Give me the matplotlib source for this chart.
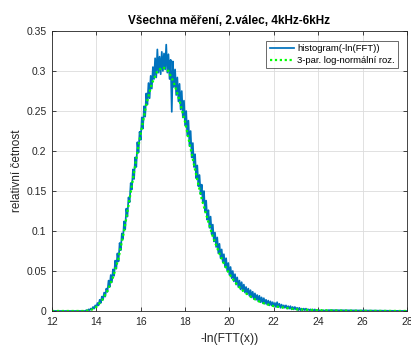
import numpy as np
import matplotlib
matplotlib.use("Agg")
import matplotlib.pyplot as plt

plt.rcParams["font.family"] = ["Liberation Sans", "DejaVu Sans"]

# fit curve (3-par. log-normal)
fit_x = [12.0, 13.0, 13.5, 13.75, 14.0, 14.25, 14.5, 14.75, 15.0, 15.25, 15.5,
         15.75, 16.0, 16.25, 16.5, 16.75, 17.0, 17.25, 17.5, 17.75, 18.0,
         18.25, 18.5, 18.75, 19.0, 19.25, 19.5, 19.75, 20.0, 20.25, 20.5,
         20.75, 21.0, 21.25, 21.5, 21.75, 22.0, 22.5, 23.0, 23.5, 24.0,
         25.0, 26.0, 27.0, 28.0]
fit_y = [0.0, 0.0, 0.0, 0.001, 0.005, 0.013, 0.025, 0.042, 0.066, 0.100, 0.140,
         0.182, 0.222, 0.258, 0.284, 0.300, 0.305, 0.300, 0.285, 0.263, 0.236,
         0.203, 0.170, 0.140, 0.116, 0.093, 0.075, 0.059, 0.046, 0.036, 0.028,
         0.022, 0.017, 0.013, 0.010, 0.008, 0.006, 0.004, 0.002, 0.0015, 0.001,
         0.0005, 0.0002, 0.0001, 0.0]

# histogram, bins of 0.05 starting at 13.5
hist_start = 13.5
hist_step = 0.05
hist_y = [
    0.000, 0.001, 0.000, 0.002, 0.001, 0.003, 0.002, 0.005, 0.003, 0.007,
    0.005, 0.010, 0.007, 0.014, 0.010, 0.018, 0.014, 0.023, 0.018, 0.028,
    0.024, 0.038, 0.030, 0.045, 0.036, 0.052, 0.044, 0.063, 0.053, 0.072,
    0.062, 0.085, 0.076, 0.097, 0.090, 0.112, 0.102, 0.128, 0.118, 0.142,
    0.136, 0.160, 0.152, 0.177, 0.165, 0.192, 0.180, 0.211, 0.198, 0.224,
    0.214, 0.242, 0.228, 0.256, 0.243, 0.272, 0.258, 0.285, 0.266, 0.294,
    0.278, 0.305, 0.290, 0.316, 0.292, 0.327, 0.298, 0.318, 0.296, 0.324,
    0.300, 0.322, 0.302, 0.333, 0.298, 0.321, 0.290, 0.314, 0.249, 0.312,
    0.280, 0.302, 0.270, 0.292, 0.262, 0.284, 0.252, 0.275, 0.242, 0.263,
    0.232, 0.250, 0.219, 0.238, 0.206, 0.225, 0.192, 0.210, 0.180, 0.196,
    0.166, 0.182, 0.156, 0.170, 0.146, 0.158, 0.136, 0.150, 0.124, 0.138,
    0.114, 0.126, 0.104, 0.118, 0.096, 0.108, 0.087, 0.098, 0.080, 0.092,
    0.072, 0.084, 0.066, 0.077, 0.061, 0.071, 0.055, 0.066, 0.050, 0.060,
    0.045, 0.055, 0.041, 0.050, 0.037, 0.046, 0.033, 0.042, 0.030, 0.038,
    0.027, 0.036, 0.025, 0.033, 0.023, 0.030, 0.021, 0.028, 0.019, 0.026,
    0.017, 0.024, 0.015, 0.022, 0.014, 0.020, 0.012, 0.019, 0.011, 0.017,
    0.010, 0.016, 0.009, 0.014, 0.008, 0.013, 0.007, 0.012, 0.007, 0.011,
    0.006, 0.010, 0.005, 0.011, 0.005, 0.009, 0.004, 0.008, 0.004, 0.007,
    0.004, 0.007, 0.003, 0.006, 0.003, 0.006, 0.002, 0.005, 0.002, 0.005,
    0.002, 0.004, 0.001, 0.004, 0.001, 0.003, 0.001, 0.003, 0.001, 0.003,
    0.001, 0.002, 0.001, 0.002, 0.000, 0.002, 0.000, 0.002, 0.000, 0.001,
    0.000, 0.001, 0.000, 0.001, 0.000, 0.001, 0.000, 0.001, 0.000, 0.001,
]

x_ticks = [12, 14, 16, 18, 20, 22, 24, 26, 28]
y_ticks = [0, 0.05, 0.1, 0.15, 0.2, 0.25, 0.3, 0.35]
y_tick_labels = ["0", "0.05", "0.1", "0.15", "0.2", "0.25", "0.3", "0.35"]

_TXT = "#262626"

hx = hist_start + hist_step * np.arange(len(hist_y))
hx = np.concatenate([[12.0], hx, [28.0]])
hy = np.concatenate([[0.0], hist_y, [0.0]])

fig = plt.figure(figsize=(4.11, 3.45), dpi=100)
ax = fig.add_axes([0.1265, 0.0986, 0.8635, 0.8114])

ax.plot(hx, hy, color="#0072BD", linewidth=1.25, label="histogram(-ln(FFT))")
ax.plot(fit_x, fit_y, color="#00FF00", linewidth=1.6, linestyle=(0, (1, 1.2)),
        label="3-par. log-normální roz.")

ax.set_xlim(12, 28)
ax.set_ylim(0, 0.35)
ax.set_xticks(x_ticks)
ax.set_yticks(y_ticks)
ax.set_yticklabels(y_tick_labels)
ax.tick_params(direction="in", top=True, right=True, length=3, width=0.6,
               colors=_TXT, labelsize=7.5, pad=4)
for s in ax.spines.values():
    s.set_color(_TXT)
    s.set_linewidth(0.6)
ax.grid(True, color="#dcdcdc", linewidth=0.6)
ax.set_axisbelow(True)

ax.set_title("Všechna měření, 2.válec, 4kHz-6kHz", fontsize=8.5, fontweight="bold",
             color="black", pad=5)
ax.set_xlabel("-ln(FTT(x))", fontsize=8.7, color=_TXT, labelpad=5)
ax.set_ylabel("relativní četnost", fontsize=8.5, color=_TXT, labelpad=2)

leg = ax.legend(loc="upper right", bbox_to_anchor=(0.975, 0.965), fontsize=6.8,
                frameon=True, fancybox=False, handlelength=2.6, handletextpad=0.3,
                borderpad=0.35, labelspacing=0.3, borderaxespad=0.0)
leg.get_frame().set_edgecolor(_TXT)
leg.get_frame().set_linewidth(0.6)

fig.savefig("out.png", dpi=100)
